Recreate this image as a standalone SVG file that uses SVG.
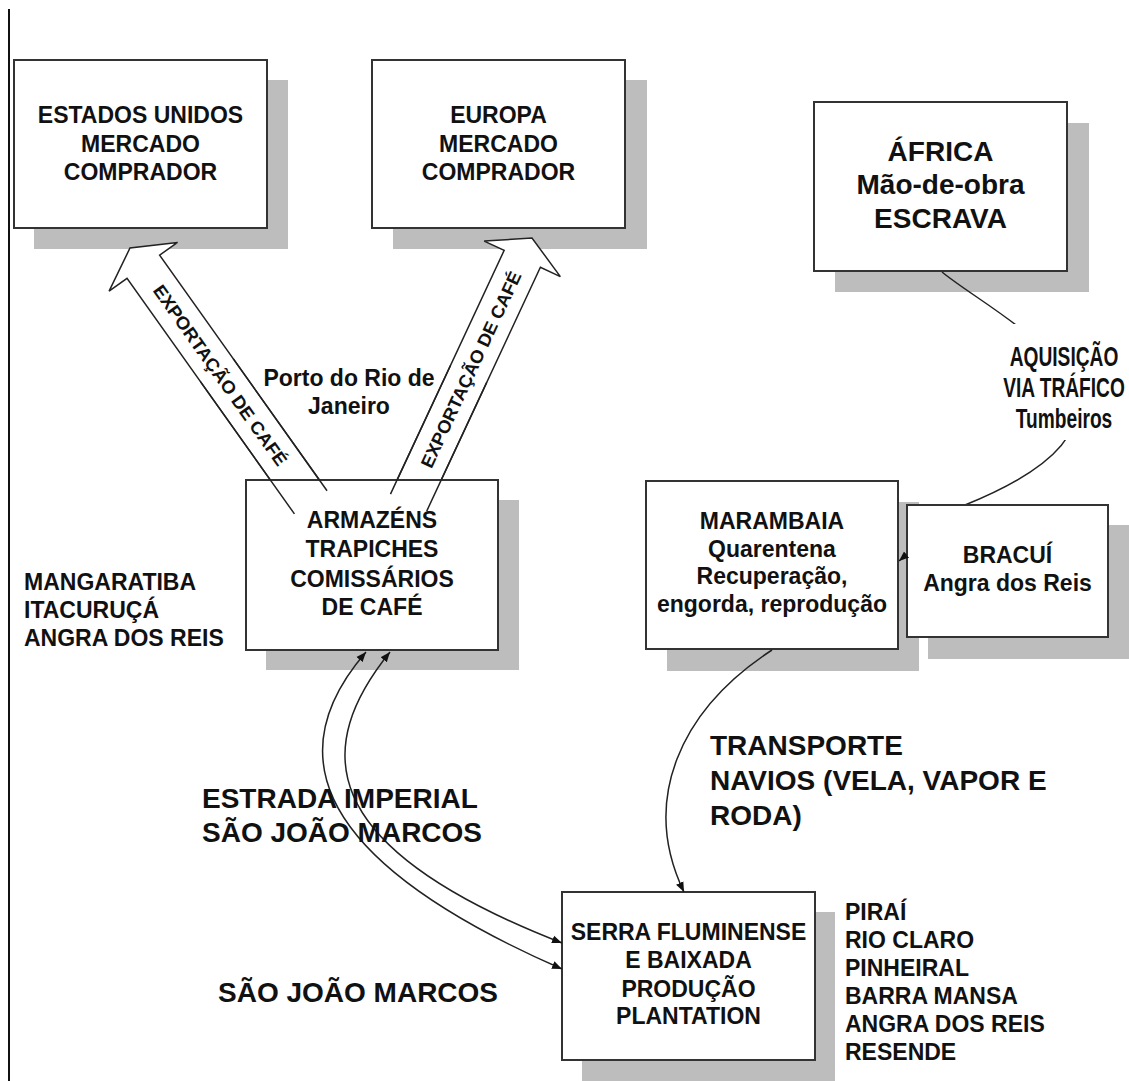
<svg xmlns="http://www.w3.org/2000/svg" width="1129" height="1081" viewBox="0 0 1129 1081">
<defs>
<style>
.t{font-family:"Liberation Sans",Arial,sans-serif;font-weight:bold;fill:#111;text-anchor:middle}
.l{font-family:"Liberation Sans",Arial,sans-serif;font-weight:bold;fill:#111}
.box{fill:#fff;stroke:#333;stroke-width:2}
.sh{fill:#bdbdbd}
.c{fill:none;stroke:#222;stroke-width:1.5}
.ba{stroke:#222;stroke-width:1.5;stroke-linejoin:miter}
</style>
<marker id="ah" viewBox="0 0 10 10" refX="10" refY="5" markerWidth="10" markerHeight="10" markerUnits="userSpaceOnUse" orient="auto-start-reverse">
<path d="M0,1 L10,5 L0,9 z" fill="#111"/>
</marker>
</defs>
<rect width="1129" height="1081" fill="#fff"/>
<line x1="9" y1="9" x2="9" y2="1081" stroke="#111" stroke-width="2"/>

<g id="node-eua">
<rect class="sh" x="34" y="80" width="254" height="169"/>
<rect class="box" x="14" y="60" width="253" height="168"/>
<text class="t" font-size="23" x="140.5" y="123">ESTADOS UNIDOS</text>
<text class="t" font-size="23" x="140.5" y="152">MERCADO</text>
<text class="t" font-size="23" x="140.5" y="180">COMPRADOR</text>
</g>

<g id="node-europa">
<rect class="sh" x="393" y="80" width="254" height="169"/>
<rect class="box" x="372" y="60" width="253" height="168"/>
<text class="t" font-size="23" x="498.5" y="123">EUROPA</text>
<text class="t" font-size="23" x="498.5" y="152">MERCADO</text>
<text class="t" font-size="23" x="498.5" y="180">COMPRADOR</text>
</g>

<g id="node-africa">
<rect class="sh" x="835" y="123" width="254" height="169"/>
<rect class="box" x="814" y="102" width="253" height="169"/>
<text class="t" font-size="28" x="940.5" y="161">ÁFRICA</text>
<text class="t" font-size="28" x="940.5" y="194">Mão-de-obra</text>
<text class="t" font-size="28" x="940.5" y="228">ESCRAVA</text>
</g>

<g id="connectors">
<path class="c" d="M942,272 C1000,320 1200,410 965,505"/>
<rect x="988" y="324" width="141" height="116" fill="#fff"/>
<g id="arrow-eua" transform="translate(130,248) rotate(-35.4)">
<path d="M-20,312 L-20,23 L-42,23 L0,0 L42,23 L20,23 L20,312 Z" fill="#fff" stroke="none"/>
<path class="ba" fill="none" d="M-20,312 L-20,23 L-42,23 L0,0 L42,23 L20,23 L20,312"/>
<text class="t" font-size="18" transform="translate(0,156) rotate(90)" y="6.5" textLength="217" lengthAdjust="spacingAndGlyphs">EXPORTAÇÃO DE CAFÉ</text>
</g>
<g id="arrow-europa" transform="translate(532,238) rotate(25)">
<path d="M-20,292 L-20,23 L-42,23 L0,0 L42,23 L20,23 L20,292 Z" fill="#fff" stroke="none"/>
<path class="ba" fill="none" d="M-20,292 L-20,23 L-42,23 L0,0 L42,23 L20,23 L20,292"/>
<text class="t" font-size="18" transform="translate(0,145) rotate(-90)" y="6.5" textLength="214" lengthAdjust="spacingAndGlyphs">EXPORTAÇÃO DE CAFÉ</text>
</g>
</g>

<g id="node-armazens">
<rect class="sh" x="266" y="500" width="253" height="170"/>
<rect class="box" x="246" y="480" width="252" height="170"/>
<text class="t" font-size="23" x="372" y="528">ARMAZÉNS</text>
<text class="t" font-size="23" x="372" y="557">TRAPICHES</text>
<text class="t" font-size="23" x="372" y="587">COMISSÁRIOS</text>
<text class="t" font-size="23" x="372" y="615">DE CAFÉ</text>
</g>
<g id="arrow-tails">
<g transform="translate(130,248) rotate(-35.4)"><path class="ba" fill="none" d="M-20,312 L-20,150 M20,312 L20,150"/></g>
<g transform="translate(532,238) rotate(25)"><path class="ba" fill="none" d="M-20,292 L-20,150 M20,292 L20,150"/></g>
</g>

<g id="node-marambaia">
<rect class="sh" x="667" y="502" width="252" height="169"/>
<rect class="box" x="646" y="481" width="252" height="168"/>
<text class="t" font-size="23" x="772" y="529">MARAMBAIA</text>
<text class="t" font-size="23" x="772" y="557">Quarentena</text>
<text class="t" font-size="23" x="772" y="584">Recuperação,</text>
<text class="t" font-size="23" x="772" y="612">engorda, reprodução</text>
</g>

<g id="node-bracui">
<rect class="sh" x="928" y="525" width="201" height="134"/>
<rect class="box" x="907" y="505" width="201" height="132"/>
<text class="t" font-size="23" x="1007.5" y="563">BRACUÍ</text>
<text class="t" font-size="23" x="1007.5" y="591">Angra dos Reis</text>
</g>

<g id="node-serra">
<rect class="sh" x="582" y="912" width="253" height="169"/>
<rect class="box" x="562" y="892" width="253" height="168"/>
<text class="t" font-size="23" x="688.5" y="940">SERRA FLUMINENSE</text>
<text class="t" font-size="23" x="688.5" y="968">E BAIXADA</text>
<text class="t" font-size="23" x="688.5" y="997">PRODUÇÃO</text>
<text class="t" font-size="23" x="688.5" y="1024">PLANTATION</text>
</g>

<g id="connectors-2">
<path class="c" d="M906,555 L899,561" marker-end="url(#ah)"/>
<path class="c" d="M772,650 C680,710 640,800 684,892" marker-end="url(#ah)"/>
<path class="c" d="M366,652 C290,740 290,850 562,969" marker-start="url(#ah)" marker-end="url(#ah)"/>
<path class="c" d="M390,652 C315,745 310,845 562,943" marker-start="url(#ah)" marker-end="url(#ah)"/>
</g>

<g id="labels">
<text class="t" font-size="23" x="349" y="386">Porto do Rio de</text>
<text class="t" font-size="23" x="349" y="414">Janeiro</text>
<g transform="translate(1064,0) scale(0.71,1)">
<text class="t" font-size="27" x="0" y="366">AQUISIÇÃO</text>
<text class="t" font-size="27" x="0" y="397">VIA TRÁFICO</text>
<text class="t" font-size="27" x="0" y="428">Tumbeiros</text>
</g>
<text class="l" font-size="23" x="24" y="590">MANGARATIBA</text>
<text class="l" font-size="23" x="24" y="618">ITACURUÇÁ</text>
<text class="l" font-size="23" x="24" y="646">ANGRA DOS REIS</text>
<text class="l" font-size="28" x="710" y="755">TRANSPORTE</text>
<text class="l" font-size="28" x="710" y="790">NAVIOS (VELA, VAPOR E</text>
<text class="l" font-size="28" x="710" y="825">RODA)</text>
<text class="l" font-size="28" x="202" y="808">ESTRADA IMPERIAL</text>
<text class="l" font-size="28" x="202" y="842">SÃO JOÃO MARCOS</text>
<text class="l" font-size="28" x="218" y="1002">SÃO JOÃO MARCOS</text>
<text class="l" font-size="23" x="845" y="920">PIRAÍ</text>
<text class="l" font-size="23" x="845" y="948">RIO CLARO</text>
<text class="l" font-size="23" x="845" y="976">PINHEIRAL</text>
<text class="l" font-size="23" x="845" y="1004">BARRA MANSA</text>
<text class="l" font-size="23" x="845" y="1032">ANGRA DOS REIS</text>
<text class="l" font-size="23" x="845" y="1060">RESENDE</text>
</g>
</svg>
